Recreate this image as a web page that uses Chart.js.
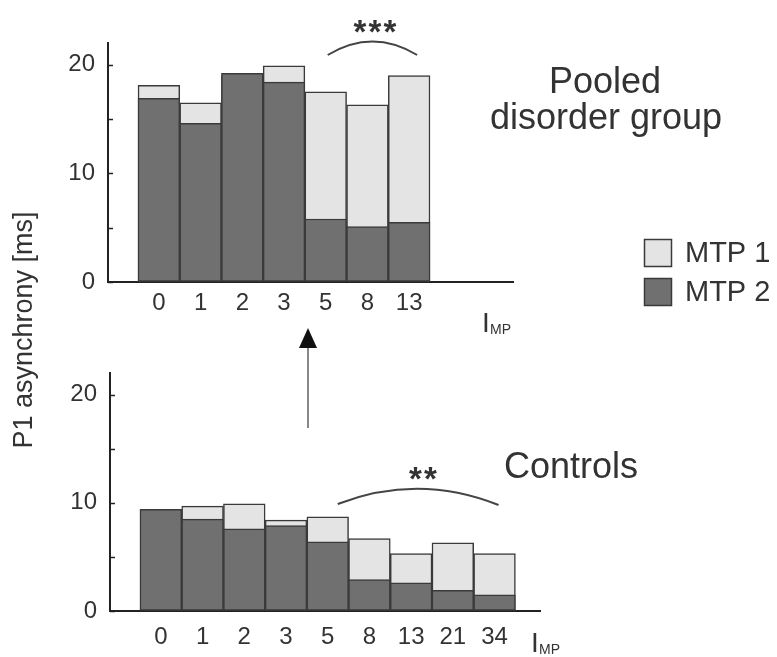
<!DOCTYPE html>
<html>
<head>
<meta charset="utf-8">
<script src="https://cdn.jsdelivr.net/npm/chart.js@4.4.1/dist/chart.umd.min.js"></script>
<style>
  html, body { margin: 0; padding: 0; background: #fff; }
  #wrap { position: relative; width: 777px; height: 657px; }
  canvas { position: absolute; left: 0; top: 0; }
</style>
</head>
<body>
<div id="wrap">
  <canvas id="pooled-chart" width="777" height="657"></canvas>
  <canvas id="controls-chart" width="777" height="657"></canvas>
</div>
<script>
// --- data (ms) ---
const pooledLabels = ['0', '1', '2', '3', '5', '8', '13'];
const pooledMtp1 = [18.1, 16.5, 19.0, 19.9, 17.5, 16.3, 19.0];
const pooledMtp2 = [16.9, 14.6, 19.2, 18.4, 5.8, 5.1, 5.5];

const controlLabels = ['0', '1', '2', '3', '5', '8', '13', '21', '34'];
const controlMtp1 = [9.3, 9.7, 9.9, 8.4, 8.7, 6.7, 5.3, 6.3, 5.3];
const controlMtp2 = [9.4, 8.5, 7.6, 7.9, 6.4, 2.9, 2.6, 1.9, 1.5];

const yTickValues = [0, 5, 10, 15, 20];
const yLabelledTicks = [0, 10, 20];
const seriesNames = ['MTP 1', 'MTP 2'];

const FONT = '"Liberation Sans", Arial, sans-serif';
const TEXT = '#333';
const LIGHT = '#e4e4e4';
const DARK = '#707070';
const EDGE = '#3a3a3a';
const W = 777, H = 657;
const Y_AXIS_W = 60, X_AXIS_H = 40;

// small ticks pointing into the plot, like the original
const inwardTicks = {
    id: 'inwardTicks',
    afterDraw(chart) {
        const y = chart.scales.y;
        const ctx = chart.ctx;
        ctx.save();
        ctx.strokeStyle = '#222';
        ctx.lineWidth = 1.5;
        yTickValues.forEach(v => {
            const py = Math.round(y.getPixelForValue(v)) + 0.5;
            ctx.beginPath();
            ctx.moveTo(y.right, py);
            ctx.lineTo(y.right + 5, py);
            ctx.stroke();
        });
        ctx.restore();
    }
};

function drawImp(ctx, x, y) {
    ctx.fillStyle = TEXT;
    ctx.textAlign = 'left';
    ctx.textBaseline = 'alphabetic';
    ctx.font = '28px ' + FONT;
    ctx.fillText('I', x, y);
    ctx.font = '14px ' + FONT;
    ctx.fillText('MP', x + 8, y + 2);
}

function drawArc(ctx, x0, y0, x1, y1, cy) {
    ctx.save();
    ctx.strokeStyle = '#444';
    ctx.lineWidth = 2;
    ctx.beginPath();
    ctx.moveTo(x0, y0);
    ctx.quadraticCurveTo((x0 + x1) / 2, cy, x1, y1);
    ctx.stroke();
    ctx.restore();
}

function drawStars(ctx, count, cx, top) {
    ctx.fillStyle = TEXT;
    ctx.font = 'bold 33px ' + FONT;
    ctx.textAlign = 'center';
    ctx.textBaseline = 'top';
    const gap = 15;
    for (let i = 0; i < count; i++) {
        ctx.fillText('*', cx + (i - (count - 1) / 2) * gap, top);
    }
}

const pooledDecor = {
    id: 'pooledDecor',
    afterDraw(chart) {
        const ctx = chart.ctx;
        const x = chart.scales.x;
        ctx.save();
        drawImp(ctx, 482, 332);
        drawArc(ctx, x.getPixelForValue(4) + 2, 55, x.getPixelForValue(6) + 8, 55, 28);
        drawStars(ctx, 3, 375, 17);

        ctx.fillStyle = TEXT;
        ctx.font = '36px ' + FONT;
        ctx.textAlign = 'center';
        ctx.textBaseline = 'alphabetic';
        ctx.fillText('Pooled', 605, 93);
        ctx.fillText('disorder group', 606, 129);

        // legend
        const colors = [LIGHT, DARK];
        seriesNames.forEach((name, i) => {
            const top = 239 + i * 39;
            ctx.fillStyle = colors[i];
            ctx.fillRect(644, top, 28, 28);
            ctx.strokeStyle = EDGE;
            ctx.lineWidth = 1.5;
            ctx.strokeRect(644.5, top + 0.5, 27, 27);
            ctx.fillStyle = TEXT;
            ctx.font = '29px ' + FONT;
            ctx.textAlign = 'left';
            ctx.textBaseline = 'middle';
            ctx.fillText(name, 685, top + 15);
        });

        // shared y title
        ctx.translate(25, 330);
        ctx.rotate(-Math.PI / 2);
        ctx.font = '27px ' + FONT;
        ctx.textAlign = 'center';
        ctx.textBaseline = 'middle';
        ctx.fillText('P1 asynchrony [ms]', 0, 0);
        ctx.restore();
    }
};

const controlsDecor = {
    id: 'controlsDecor',
    afterDraw(chart) {
        const ctx = chart.ctx;
        const x = chart.scales.x;
        ctx.save();
        drawImp(ctx, 531, 652);
        drawArc(ctx, x.getPixelForValue(4) + 10, 504, x.getPixelForValue(8) + 4, 505, 473);
        drawStars(ctx, 2, 423, 464);

        ctx.fillStyle = TEXT;
        ctx.font = '36px ' + FONT;
        ctx.textAlign = 'left';
        ctx.textBaseline = 'alphabetic';
        ctx.fillText('Controls', 504, 478);

        // arrow from controls up to the pooled group
        ctx.strokeStyle = '#888';
        ctx.lineWidth = 2;
        ctx.beginPath();
        ctx.moveTo(308, 428);
        ctx.lineTo(308, 345);
        ctx.stroke();
        ctx.fillStyle = '#111';
        ctx.beginPath();
        ctx.moveTo(308, 328);
        ctx.lineTo(317, 348);
        ctx.lineTo(299, 348);
        ctx.closePath();
        ctx.fill();
        ctx.restore();
    }
};

function renderPanel(canvasId, labels, mtp1, mtp2, frame, decor) {
    const ctx = document.getElementById(canvasId).getContext('2d');
    const toPoints = arr => arr.map((v, i) => ({ x: i, y: v }));

    return new Chart(ctx, {
        type: 'bar',
        data: {
            datasets: [
                {
                    label: seriesNames[0],
                    data: toPoints(mtp1),
                    backgroundColor: LIGHT,
                    order: 1
                },
                {
                    label: seriesNames[1],
                    data: toPoints(mtp2),
                    backgroundColor: DARK,
                    order: 0
                }
            ]
        },
        options: {
            responsive: false,
            animation: false,
            layout: {
                padding: {
                    left: frame.left - Y_AXIS_W,
                    top: frame.top,
                    right: W - frame.right,
                    bottom: H - frame.bottom - X_AXIS_H
                }
            },
            datasets: {
                bar: {
                    grouped: false,
                    barPercentage: 1,
                    categoryPercentage: 1,
                    borderColor: EDGE,
                    borderWidth: 1.5,
                    borderSkipped: false
                }
            },
            plugins: {
                legend: { display: false },
                tooltip: { enabled: false }
            },
            scales: {
                x: {
                    type: 'linear',
                    offset: false,
                    min: frame.xMin,
                    max: frame.xMax,
                    afterFit: s => { s.height = X_AXIS_H; },
                    afterBuildTicks: s => { s.ticks = labels.map((_, i) => ({ value: i })); },
                    grid: { display: true, offset: false, drawOnChartArea: false, drawTicks: false },
                    border: { display: true, color: '#222', width: 2 },
                    ticks: {
                        autoSkip: false,
                        maxRotation: 0,
                        padding: frame.tickPad,
                        color: TEXT,
                        font: { family: FONT, size: 24 },
                        callback: v => labels[v]
                    }
                },
                y: {
                    min: 0,
                    max: 22,
                    afterFit: s => { s.width = Y_AXIS_W; },
                    afterBuildTicks: s => { s.ticks = yTickValues.map(v => ({ value: v })); },
                    grid: { display: true, drawOnChartArea: false, drawTicks: false },
                    border: { display: true, color: '#222', width: 2 },
                    ticks: {
                        padding: 13,
                        color: TEXT,
                        font: { family: FONT, size: 24 },
                        callback: v => yLabelledTicks.includes(v) ? String(v) : ''
                    }
                }
            }
        },
        plugins: [inwardTicks, decor]
    });
}

renderPanel('pooled-chart', pooledLabels, pooledMtp1, pooledMtp2,
    { left: 108, top: 43, right: 513, bottom: 282, xMin: -1.22, xMax: 8.49, tickPad: 7 }, pooledDecor);

renderPanel('controls-chart', controlLabels, controlMtp1, controlMtp2,
    { left: 110, top: 373, right: 540, bottom: 611, xMin: -1.22, xMax: 9.09, tickPad: 12 }, controlsDecor);
</script>
</body>
</html>
